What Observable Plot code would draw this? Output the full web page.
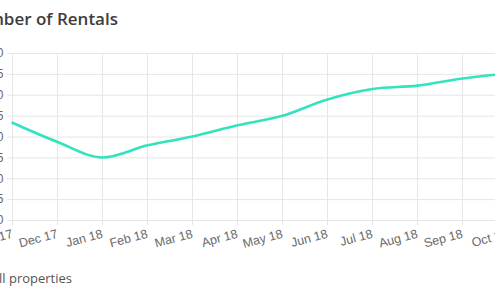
<!DOCTYPE html>
<html>
<head>
<meta charset="utf-8">
<script src="https://cdn.jsdelivr.net/npm/d3@7"></script>
<script src="https://cdn.jsdelivr.net/npm/@observablehq/plot@0.6"></script>
<style>
  html, body { margin: 0; padding: 0; width: 495px; height: 300px; overflow: hidden; background: #fff; }
  #wrap { position: relative; width: 495px; height: 300px; overflow: hidden; }
  #title { position: absolute; right: 377px; top: 7px; white-space: nowrap;
    font-family: "Open Sans", sans-serif; font-weight: 600; font-size: 17px; color: #3d3d3d; }
  #legend { position: absolute; right: 423px; top: 269px; white-space: nowrap;
    font-family: "Open Sans", sans-serif; font-size: 13px; color: #555; }
  #legend .sw { display: inline-block; width: 12px; height: 12px; background: #33e3bd; margin-right: 6px; vertical-align: -1px; }
  #chart { position: absolute; left: -40px; top: 0; width: 557px; }
  #chart svg { max-width: none !important; }
</style>
</head>
<body>
<div id="wrap">
  <div id="title">Number of Rentals</div>
  <div id="chart"></div>
  <div id="legend"><span class="sw"></span>All properties</div>
</div>
<script>
const months = ["Nov 17","Dec 17","Jan 18","Feb 18","Mar 18","Apr 18","May 18","Jun 18","Jul 18","Aug 18","Sep 18","Oct 18"];
const rentals = [23.4, 18.8, 15.1, 18.0, 20.1, 22.8, 25.1, 29.0, 31.5, 32.3, 34.0, 35.2];
const yTicks = [0, 5, 10, 15, 20, 25, 30, 35, 40];

const data = months.map((m, i) => ({month: m, value: rentals[i]}));

const chart = Plot.plot({
  width: 557,
  height: 260,
  marginLeft: 52,
  marginRight: 10,
  marginTop: 53,
  marginBottom: 40,
  style: {fontFamily: "'Liberation Sans', Arial, sans-serif", fontSize: "12px", color: "#666", background: "transparent", overflow: "visible"},
  x: {type: "point", domain: months, padding: 0, label: null},
  y: {domain: [0, 40], label: null},
  marks: [
    Plot.gridY(yTicks, {stroke: "#e6e6e6", strokeOpacity: 1, strokeWidth: 1}),
    Plot.gridX(months, {stroke: "#e6e6e6", strokeOpacity: 1, strokeWidth: 1}),
    Plot.axisY(yTicks, {tickSize: 5, tickPadding: 4, stroke: "#e6e6e6", strokeOpacity: 1, fill: "#666", fontSize: 12}),
    Plot.axisX(months, {tickSize: 5, tickPadding: 8, tickRotate: -15, textAnchor: "end", stroke: "#e6e6e6", strokeOpacity: 1, fill: "#6a6a6a", fontSize: 12.5}),
    Plot.line(data, {x: "month", y: "value", stroke: "#33e3bd", strokeWidth: 2.6, curve: "monotone-x"})
  ]
});
document.getElementById("chart").appendChild(chart);
</script>
</body>
</html>
